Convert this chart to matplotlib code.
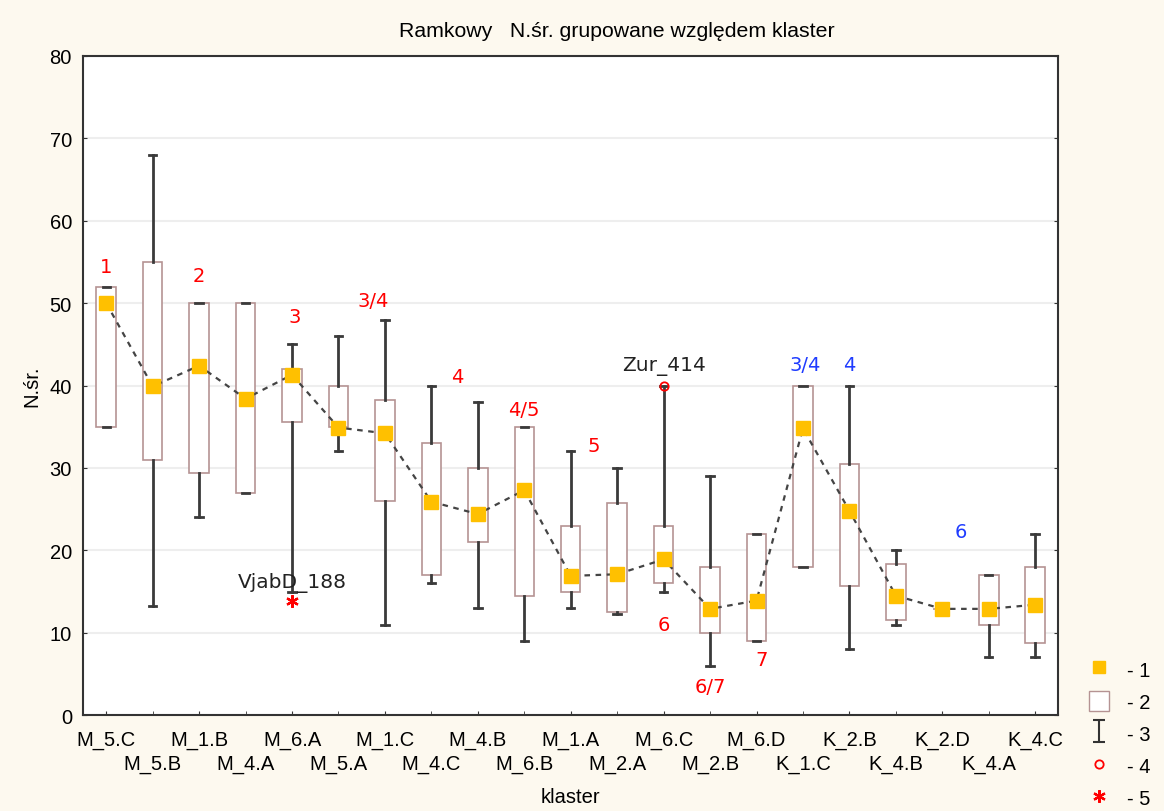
import numpy as np
import matplotlib
matplotlib.use("Agg")
import matplotlib.pyplot as plt
from matplotlib.lines import Line2D
from matplotlib.patches import Patch
from matplotlib.path import Path

plt.rcParams['font.family'] = ['Liberation Sans', 'DejaVu Sans']

# data
klastry = ['M_5.C', 'M_5.B', 'M_1.B', 'M_4.A', 'M_6.A', 'M_5.A', 'M_1.C', 'M_4.C', 'M_4.B', 'M_6.B', 'M_1.A',
           'M_2.A', 'M_6.C', 'M_2.B', 'M_6.D', 'K_1.C', 'K_2.B', 'K_4.B', 'K_2.D', 'K_4.A', 'K_4.C']
srednie = [50, 39.9, 42.4, 38.4, 41.3, 34.9, 34.2, 25.9, 24.4, 27.3, 16.9,
           17.1, 18.9, 12.9, 13.9, 34.8, 24.8, 14.5, 12.9, 12.9, 13.4]
box_gora = [52, 55, 50, 50, 42, 40, 38.3, 33, 30, 35, 23,
            25.7, 23, 18, 22, 40, 30.5, 18.4, 12.9, 17, 18]
box_dol = [35, 31, 29.4, 27, 35.6, 35, 26, 17, 21, 14.5, 15,
           12.5, 16, 10, 9, 18, 15.7, 11.6, 12.9, 11, 8.8]
wasy_gora = [52, 68, 50, 50, 45, 46, 48, 40, 38, 35, 32,
             30, 40, 29, 22, 40, 40, 20, 12.9, 17, 22]
wasy_dol = [35, 13.3, 24, 27, 15, 32, 11, 16, 13, 9, 13,
            12.3, 15, 6, 9, 18, 8, 11, 12.9, 7, 7]

# outliers: (category index, value, name)
odstajace = [(12, 40, 'Zur_414')]
ekstremalne = [(4, 13.8, 'VjabD_188')]

# group labels above/below boxes
grupy_txt = ['1', '2', '3', '3/4', '4', '4/5', '5', '6', '6/7', '7', '3/4', '4', '6']
grupy_x = [0, 2, 4.05, 5.75, 7.55, 9.0, 10.5, 12.0, 13.0, 14.1, 15.05, 16.0, 18.4]
grupy_y = [54.5, 53.3, 48.4, 50.3, 41.1, 37.1, 32.7, 11.0, 3.5, 6.8, 42.5, 42.5, 22.3]
grupy_kol = ['red'] * 10 + ['#1f3cff'] * 3

fs = 14.5
bg = '#fdf9ef'
fig = plt.figure(figsize=(11.64, 8.12), dpi=100, facecolor=bg)
ax = fig.add_axes([0.0713, 0.118, 0.838, 0.812])

stats = []
for i in range(len(klastry)):
    stats.append(dict(med=srednie[i], q1=box_dol[i], q3=box_gora[i],
                      whislo=wasy_dol[i], whishi=wasy_gora[i], fliers=[]))
pos = np.arange(len(klastry))
ax.bxp(stats, positions=pos, widths=0.42, showfliers=False, patch_artist=True, manage_ticks=False,
       boxprops=dict(facecolor='white', edgecolor='#b59393', linewidth=1.2),
       whiskerprops=dict(color='#3a3a3a', linewidth=2),
       capprops=dict(color='#3a3a3a', linewidth=2),
       medianprops=dict(linewidth=0), capwidths=0.16, zorder=2)

ax.plot(pos, srednie, linestyle=(0, (2.5, 2.5)), color='#444444', linewidth=1.6, zorder=3)
ax.plot(pos, srednie, linestyle='none', marker='s', markersize=10, color='#ffc000', zorder=4)

for i, v, nazwa in odstajace:
    ax.plot(i, v, marker='o', markersize=6, mfc='none', mec='red', mew=1.3, linestyle='none', zorder=5)
    ax.text(i, v + 1.3, nazwa, ha='center', va='bottom', fontsize=fs, color='#222222',
            family=['DejaVu Sans'])
for i, v, nazwa in ekstremalne:
    ax.plot(i, v, marker=(6, 2, 0), markersize=9, color='red', mew=1.6, linestyle='none', zorder=5)
    ax.text(i, v + 1.1, nazwa, ha='center', va='bottom', fontsize=fs, color='#222222',
            family=['DejaVu Sans'], zorder=6)

for t, x, y, c in zip(grupy_txt, grupy_x, grupy_y, grupy_kol):
    ax.text(x, y, t, ha='center', va='center', fontsize=14, color=c, family=['DejaVu Sans'])

ax.set_xlim(-0.5, len(klastry) - 0.5)
ax.set_ylim(0, 80)
ax.set_yticks(np.arange(0, 81, 10))
# staggered category labels: even ones on the major ticks, odd ones on the minor ticks lower down
ax.set_xticks(pos[::2])
ax.set_xticklabels(klastry[::2], fontsize=fs)
ax.set_xticks(pos[1::2], minor=True)
ax.set_xticklabels(klastry[1::2], minor=True, fontsize=fs)
ax.tick_params(axis='y', labelsize=fs, direction='in', length=3, right=True, pad=8, color='#333333')
ax.tick_params(axis='x', which='major', direction='in', length=3, pad=10.5, color='#333333')
ax.tick_params(axis='x', which='minor', direction='in', length=3, pad=28, color='#333333')
ax.yaxis.grid(True, color='#eeeeee', linewidth=1.5)
ax.set_axisbelow(True)
for s in ax.spines.values():
    s.set_color('#333333')
    s.set_linewidth(1.5)

ax.set_title('Ramkowy   N.śr. grupowane względem klaster', fontsize=15.3, pad=14, x=0.547)
ax.set_ylabel('N.śr.', fontsize=fs, labelpad=6)
ax.set_xlabel('klaster', fontsize=fs, labelpad=10)

# legend
ibeam = Path([(-0.5, 1), (0.5, 1), (0, 1), (0, -1), (-0.5, -1), (0.5, -1)],
             [Path.MOVETO, Path.LINETO, Path.MOVETO, Path.LINETO, Path.MOVETO, Path.LINETO])
uchwyty = [
    Line2D([], [], linestyle='none', marker='s', markersize=9, color='#ffc000'),
    Patch(facecolor='white', edgecolor='#b59393'),
    Line2D([], [], linestyle='none', marker=ibeam, markersize=16, color='#333333', mew=1.5),
    Line2D([], [], linestyle='none', marker='o', markersize=6, mfc='none', mec='red', mew=1.3),
    Line2D([], [], linestyle='none', marker=(6, 2, 0), markersize=9, color='red', mew=1.6),
]
fig.legend(uchwyty, ['- 1', '- 2', '- 3', '- 4', '- 5'], loc='lower left',
           bbox_to_anchor=(0.92, -0.019), frameon=False, fontsize=fs,
           labelspacing=0.55, handlelength=1.0, handleheight=1.2, handletextpad=0.9)

fig.savefig('out.png', dpi=100, facecolor=bg)
